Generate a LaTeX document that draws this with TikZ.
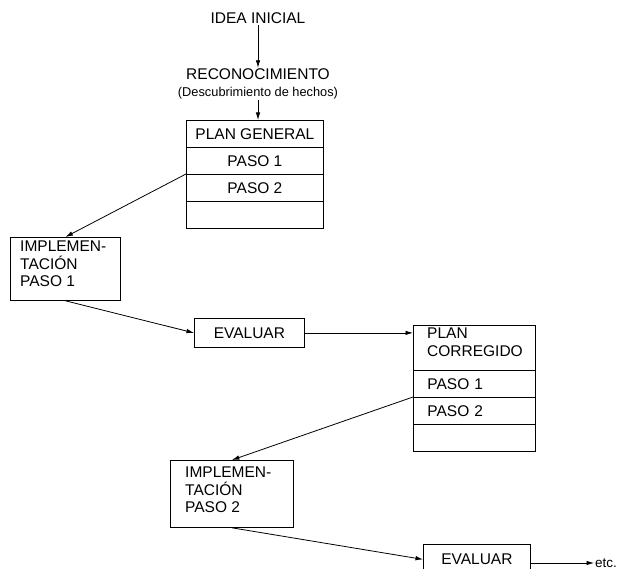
\documentclass[tikz,border=0pt]{standalone}
\usepackage{fontspec}
\setmainfont{Liberation Sans}
\usetikzlibrary{arrows.meta}
\begin{document}
\begin{tikzpicture}[x=1pt,y=-1pt,
  every node/.style={font=\fontsize{15.5}{17.5}\selectfont},
  box/.style={draw, line width=0.8pt, inner sep=0pt, anchor=north west},
  row/.style={box, minimum width=137pt, minimum height=27pt},
  crow/.style={box, minimum width=122pt, minimum height=27pt, text width=108pt, align=left},
  arr/.style={line width=0.8pt, -{Latex[length=7.5pt,width=4.5pt]}},
  lbl/.style={inner sep=1pt}]
\clip (0,0) rectangle (626,569);
\useasboundingbox (0,0) rectangle (626,569);

% top texts
\node[lbl] (idea) at (258,18) {IDEA INICIAL};
\node[lbl, align=center] (reco) at (258,84) {RECONOCIMIENTO\\[-1pt]{\fontsize{12.8}{15}\selectfont(Descubrimiento de hechos)}};

% plan general
\node[row] (pg0) at (186,120) {PLAN GENERAL};
\node[row] (pg1) at (186,147) {PASO 1};
\node[row] (pg2) at (186,174) {PASO 2};
\node[row] (pg3) at (186,201) {};

% implementacion 1
\node[box, minimum width=110pt, minimum height=63pt] (impl1) at (10,237) {};
\node[anchor=north west, align=left, inner sep=0pt] (t1) at (20,241) {IMPLEMEN-\\TACIÓN\\PASO 1};

% evaluar 1
\node[box, minimum width=110pt, minimum height=29pt] (ev1) at (194,318) {EVALUAR};

% plan corregido
\node[box, minimum width=122pt, minimum height=45pt] (pc0) at (413,325) {};
\node[anchor=north west, align=left, inner sep=0pt] (pct) at (427,328) {PLAN\\CORREGIDO};
\node[crow] (pc1) at (413,370) {\hspace*{7pt}PASO 1};
\node[crow] (pc2) at (413,397) {\hspace*{7pt}PASO 2};
\node[crow] (pc3) at (413,424) {};

% implementacion 2
\node[box, minimum width=123pt, minimum height=67pt] (impl2) at (170,460) {};
\node[anchor=north west, align=left, inner sep=0pt] (t2) at (185,467) {IMPLEMEN-\\TACIÓN\\PASO 2};

% evaluar 2
\node[box, minimum width=107pt, minimum height=30pt] (ev2) at (423,544) {EVALUAR};

\node[lbl, anchor=west, font=\fontsize{13.5}{15}\selectfont] (etc) at (594,563) {etc.};

% connectors
\draw[arr] (idea.south) -- (reco.north);
\draw[arr] (reco.south) -- (reco.south |- pg0.north);
\draw[arr] (pg2.north west) -- (impl1.north);
\draw[arr] (impl1.south) -- (ev1.west);
\draw[arr] (ev1.east) -- (ev1.east -| pc0.west);
\draw[arr] (pc2.north west) -- (impl2.north);
\draw[arr] (impl2.south) -- (ev2.west);
\draw[arr] (etc.west -| ev2.east) -- (etc.west);
\end{tikzpicture}
\end{document}
